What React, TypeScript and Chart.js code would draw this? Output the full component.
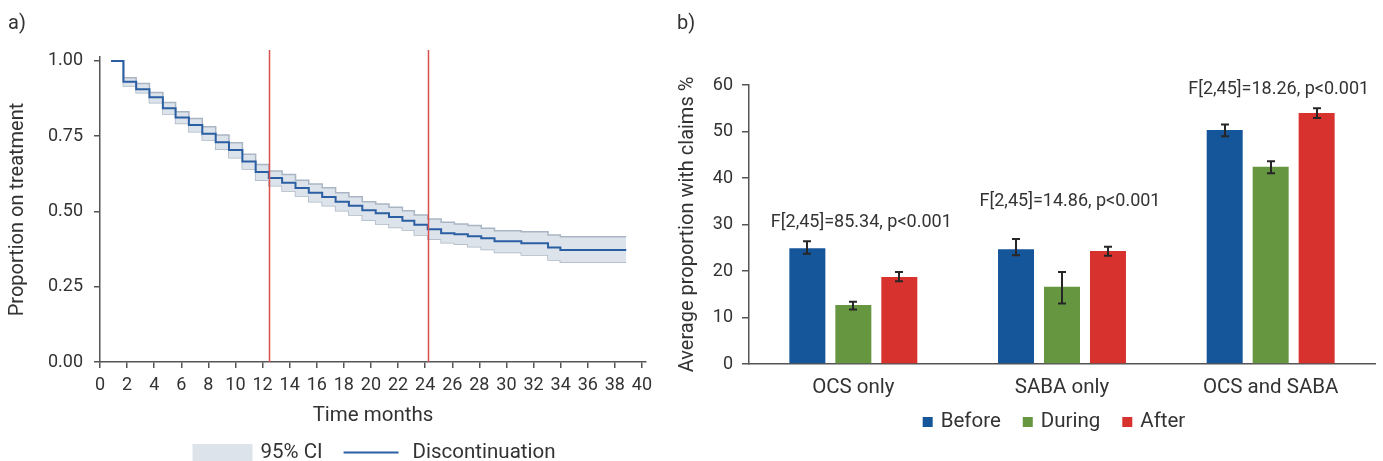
import React, { useEffect, useRef } from 'react';
import { Chart, registerables } from 'chart.js';

Chart.register(...registerables);

// ---------- Panel a) Kaplan-Meier style discontinuation ----------
const kmTimes = [0.82, 1.73, 2.67, 3.65, 4.64, 5.58, 6.56, 7.55, 8.54, 9.52, 10.51, 11.49, 12.46, 13.44, 14.43, 15.41, 16.40, 17.39, 18.37, 19.36, 20.35, 21.33, 22.32, 23.20, 24.19, 25.18, 26.16, 27.15, 28.14, 29.12, 31.10, 33.07, 33.98, 38.84];
const kmSurvival = [1.000, 0.931, 0.906, 0.879, 0.843, 0.812, 0.787, 0.758, 0.730, 0.704, 0.666, 0.631, 0.611, 0.595, 0.578, 0.562, 0.548, 0.532, 0.519, 0.504, 0.494, 0.482, 0.469, 0.456, 0.441, 0.428, 0.424, 0.418, 0.411, 0.401, 0.394, 0.380, 0.372, 0.372];
const kmLower = [1.000, 0.917, 0.894, 0.861, 0.824, 0.792, 0.765, 0.737, 0.707, 0.678, 0.641, 0.604, 0.585, 0.568, 0.551, 0.532, 0.519, 0.502, 0.488, 0.471, 0.458, 0.447, 0.438, 0.422, 0.408, 0.396, 0.391, 0.383, 0.374, 0.364, 0.355, 0.339, 0.331, 0.331];
const kmUpper = [1.000, 0.944, 0.925, 0.895, 0.862, 0.831, 0.809, 0.781, 0.754, 0.728, 0.690, 0.656, 0.634, 0.623, 0.604, 0.591, 0.579, 0.562, 0.549, 0.532, 0.525, 0.514, 0.502, 0.488, 0.475, 0.464, 0.458, 0.453, 0.444, 0.436, 0.433, 0.422, 0.416, 0.416];
const cutoffMonths = [12.45, 24.2];
const monthTicks = [0, 2, 4, 6, 8, 10, 12, 14, 16, 18, 20, 22, 24, 26, 28, 30, 32, 34, 36, 38, 40];
const proportionTicks = [0, 0.25, 0.5, 0.75, 1.0];
const kmLegendLabels = ['95% CI', 'Discontinuation'];

// ---------- Panel b) claims by period ----------
const categories = ['OCS only', 'SABA only', 'OCS and SABA'];
const periods = ['Before', 'During', 'After'];
const beforeValues = [24.9, 24.7, 50.3];
const beforeLower = [23.7, 23.4, 49.0];
const beforeUpper = [26.4, 26.9, 51.5];
const duringValues = [12.7, 16.6, 42.4];
const duringLower = [11.7, 13.0, 41.0];
const duringUpper = [13.4, 19.8, 43.6];
const afterValues = [18.7, 24.3, 54.0];
const afterLower = [17.8, 23.3, 52.9];
const afterUpper = [19.8, 25.2, 55.0];
const claimTicks = [0, 10, 20, 30, 40, 50, 60];
const fTestLabels = ['F[2,45]=85.34, p<0.001', 'F[2,45]=14.86, p<0.001', 'F[2,45]=18.26, p<0.001'];
const fTestLevels = [30.5, 35.0, 59.1];

const FONT = 'Roboto';
const TEXT = '#333333';
const AXIS = '#555555';
const periodColors = ['#15559a', '#679641', '#d7322e'];
const bandFill = '#dde3ea';
const bandEdge = '#aab5c4';
const kmLine = '#2b5fa4';
const cutoffColor = '#d9504c';

const seriesValues = [beforeValues, duringValues, afterValues];
const seriesLower = [beforeLower, duringLower, afterLower];
const seriesUpper = [beforeUpper, duringUpper, afterUpper];

const toPoints = (ys: number[]) => kmTimes.map((t, i) => ({ x: t, y: ys[i] }));

const kmDecor = {
  id: 'kmDecor',
  afterDatasetsDraw(chart: any) {
    const { ctx, chartArea, scales } = chart;
    ctx.save();
    ctx.strokeStyle = cutoffColor;
    ctx.lineWidth = 1.5;
    cutoffMonths.forEach((m) => {
      const px = Math.round(scales.x.getPixelForValue(m)) + 0.5;
      ctx.beginPath();
      ctx.moveTo(px, chartArea.top - 7);
      ctx.lineTo(px, chartArea.bottom);
      ctx.stroke();
    });
    ctx.restore();
  },
  afterDraw(chart: any) {
    const { ctx, chartArea } = chart;
    ctx.save();
    ctx.fillStyle = TEXT;
    ctx.font = `20px ${FONT}`;
    ctx.textBaseline = 'middle';
    ctx.textAlign = 'left';
    ctx.fillText('a)', 8, 24);
    // legend
    ctx.font = `20.5px ${FONT}`;
    const boxW = 60, boxH = 17, lineW = 55;
    const w1 = ctx.measureText(kmLegendLabels[0]).width;
    const w2 = ctx.measureText(kmLegendLabels[1]).width;
    const total = boxW + 8 + w1 + 21 + lineW + 14 + w2;
    const cy = 452.5;
    let x = (chartArea.left + chartArea.right) / 2 + 1 - total / 2;
    ctx.fillStyle = bandFill;
    ctx.fillRect(x, cy - boxH / 2, boxW, boxH);
    x += boxW + 8;
    ctx.fillStyle = TEXT;
    ctx.fillText(kmLegendLabels[0], x, cy);
    x += w1 + 21;
    ctx.strokeStyle = kmLine;
    ctx.lineWidth = 2;
    ctx.beginPath();
    ctx.moveTo(x, cy);
    ctx.lineTo(x + lineW, cy);
    ctx.stroke();
    x += lineW + 14;
    ctx.fillText(kmLegendLabels[1], x, cy);
    ctx.restore();
  },
};

const barDecor = {
  id: 'barDecor',
  afterDatasetsDraw(chart: any) {
    const { ctx, scales } = chart;
    ctx.save();
    ctx.strokeStyle = '#262626';
    ctx.lineWidth = 2;
    chart.data.datasets.forEach((_ds: any, di: number) => {
      const meta = chart.getDatasetMeta(di);
      meta.data.forEach((bar: any, i: number) => {
        const x = Math.round(bar.x);
        const yl = scales.y.getPixelForValue(seriesLower[di][i]);
        const yh = scales.y.getPixelForValue(seriesUpper[di][i]);
        ctx.beginPath();
        ctx.moveTo(x, yl);
        ctx.lineTo(x, yh);
        ctx.moveTo(x - 4, yl);
        ctx.lineTo(x + 4, yl);
        ctx.moveTo(x - 4, yh);
        ctx.lineTo(x + 4, yh);
        ctx.stroke();
      });
    });
    ctx.fillStyle = TEXT;
    ctx.font = `18px ${FONT}`;
    ctx.textAlign = 'center';
    ctx.textBaseline = 'middle';
    fTestLabels.forEach((t, i) => {
      ctx.fillText(t, scales.x.getPixelForValue(i) + 8, scales.y.getPixelForValue(fTestLevels[i]));
    });
    ctx.restore();
  },
  afterDraw(chart: any) {
    const { ctx, chartArea } = chart;
    ctx.save();
    ctx.fillStyle = TEXT;
    ctx.font = `20px ${FONT}`;
    ctx.textBaseline = 'middle';
    ctx.textAlign = 'left';
    ctx.fillText('b)', 12, 24);
    ctx.font = `20.5px ${FONT}`;
    const box = 10, gapBox = 8, gapItem = 22;
    const widths = periods.map((p) => ctx.measureText(p).width);
    const total = widths.reduce((a, b) => a + b, 0) + periods.length * (box + gapBox) + (periods.length - 1) * gapItem;
    const cy = 422;
    let x = (chartArea.left + chartArea.right) / 2 - 8 - total / 2;
    periods.forEach((p, i) => {
      ctx.fillStyle = periodColors[i];
      ctx.fillRect(x, cy - box / 2, box, box);
      x += box + gapBox;
      ctx.fillStyle = TEXT;
      ctx.fillText(p, x, cy);
      x += widths[i] + gapItem;
    });
    ctx.restore();
  },
};

export default function App() {
  const leftRef = useRef<HTMLCanvasElement>(null);
  const rightRef = useRef<HTMLCanvasElement>(null);

  useEffect(() => {
    const left = new Chart(leftRef.current as HTMLCanvasElement, {
      type: 'line',
      data: {
        datasets: [
          {
            label: 'Discontinuation',
            data: toPoints(kmSurvival),
            borderColor: kmLine,
            borderWidth: 2,
            stepped: 'before',
            pointRadius: 0,
            fill: false,
          },
          {
            label: '95% CI upper',
            data: toPoints(kmUpper),
            borderColor: bandEdge,
            borderWidth: 1.5,
            backgroundColor: bandFill,
            stepped: 'before',
            pointRadius: 0,
            fill: '+1',
          },
          {
            label: '95% CI lower',
            data: toPoints(kmLower),
            borderColor: bandEdge,
            borderWidth: 1.5,
            stepped: 'before',
            pointRadius: 0,
            fill: false,
          },
        ],
      } as any,
      options: {
        animation: false,
        responsive: false,
        events: [],
        layout: { padding: { top: 57, right: 19, bottom: 33, left: 0 } },
        plugins: { legend: { display: false }, tooltip: { enabled: false } },
        scales: {
          x: {
            type: 'linear',
            min: 0,
            max: 40.3,
            afterBuildTicks: (s: any) => { s.ticks = monthTicks.map((v) => ({ value: v })); },
            afterFit: (s: any) => { s.height = 66; },
            ticks: { autoSkip: false, maxRotation: 0, color: TEXT, font: { family: FONT, size: 18 }, padding: 7 },
            grid: { display: true, drawOnChartArea: false, drawTicks: true, tickLength: 6, color: AXIS, lineWidth: 1.5 },
            border: { display: true, color: AXIS, width: 1.5 },
            title: { display: true, text: 'Time months', color: TEXT, font: { family: FONT, size: 20.5 }, padding: { top: 0, bottom: 0 } },
          },
          y: {
            type: 'linear',
            min: 0,
            max: 1.013,
            afterBuildTicks: (s: any) => { s.ticks = proportionTicks.map((v) => ({ value: v })); },
            afterFit: (s: any) => { s.width = 100; },
            ticks: { color: TEXT, font: { family: FONT, size: 18 }, padding: 11, callback: (v: any) => Number(v).toFixed(2) },
            grid: { display: true, drawOnChartArea: false, drawTicks: true, tickLength: 6, color: AXIS, lineWidth: 1.5 },
            border: { display: true, color: AXIS, width: 1.5 },
            title: { display: true, text: 'Proportion on treatment', color: TEXT, font: { family: FONT, size: 20 }, padding: { top: 6, bottom: 0 } },
          },
        },
      } as any,
      plugins: [kmDecor],
    });

    const right = new Chart(rightRef.current as HTMLCanvasElement, {
      type: 'bar',
      data: {
        labels: categories,
        datasets: periods.map((p, i) => ({
          label: p,
          data: seriesValues[i],
          backgroundColor: periodColors[i],
          categoryPercentage: 0.661,
          barPercentage: 0.783,
        })),
      },
      options: {
        animation: false,
        responsive: false,
        events: [],
        layout: { padding: { top: 85, right: 8, bottom: 57, left: 0 } },
        plugins: { legend: { display: false }, tooltip: { enabled: false } },
        scales: {
          x: {
            afterFit: (s: any) => { s.height = 40; },
            ticks: { color: TEXT, font: { family: FONT, size: 20.5 }, padding: 4 },
            grid: { display: false },
            border: { display: true, color: AXIS, width: 1.5 },
          },
          y: {
            min: 0,
            max: 60,
            afterBuildTicks: (s: any) => { s.ticks = claimTicks.map((v) => ({ value: v })); },
            afterFit: (s: any) => { s.width = 84; },
            ticks: { color: TEXT, font: { family: FONT, size: 18 }, padding: 9 },
            grid: { display: true, drawOnChartArea: false, drawTicks: true, tickLength: 7, color: AXIS, lineWidth: 1.5 },
            border: { display: true, color: AXIS, width: 1.5 },
            title: { display: true, text: 'Average proportion with claims %', color: TEXT, font: { family: FONT, size: 20 }, padding: { top: 11, bottom: 0 } },
          },
        },
      } as any,
      plugins: [barDecor],
    });

    return () => {
      left.destroy();
      right.destroy();
    };
  }, []);

  return (
    <div style={{ position: 'absolute', left: 0, top: 0, width: 1383, height: 461, background: '#ffffff', overflow: 'hidden' }}>
      <canvas ref={leftRef} width={665} height={461} style={{ position: 'absolute', left: 0, top: 0, width: 665, height: 461 }} />
      <canvas ref={rightRef} width={718} height={461} style={{ position: 'absolute', left: 665, top: 0, width: 718, height: 461 }} />
    </div>
  );
}
